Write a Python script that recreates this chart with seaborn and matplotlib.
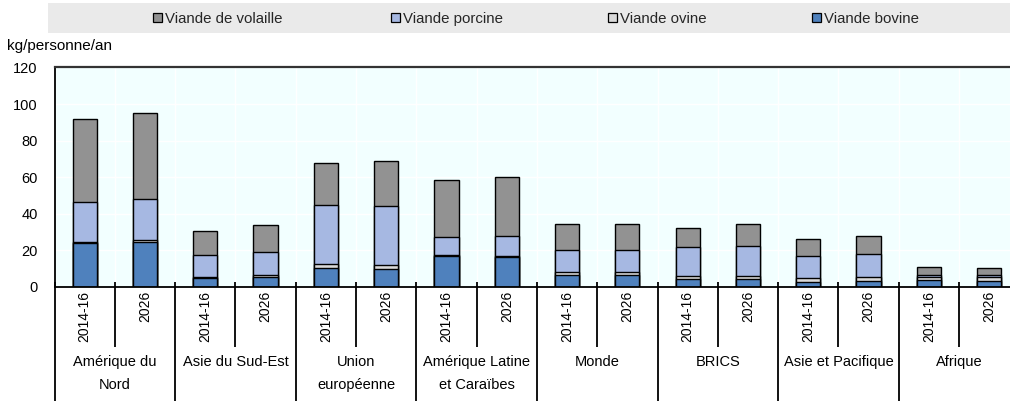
import numpy as np
import pandas as pd
import matplotlib
matplotlib.use("Agg")
import matplotlib.pyplot as plt
import seaborn as sns
from matplotlib.patches import Patch, Rectangle
from matplotlib.transforms import blended_transform_factory

# ---------------- data ----------------
regions = ["Amérique du\nNord", "Asie du Sud-Est", "Union\neuropéenne",
           "Amérique Latine\net Caraïbes", "Monde", "BRICS",
           "Asie et Pacifique", "Afrique"]
periods = ["2014-16", "2026"]
bovine   = [24.0, 24.8, 5.0, 5.7, 10.4, 10.1, 16.8, 16.6, 6.4, 6.3, 4.4, 4.6, 2.7, 3.3, 3.8, 3.5]
ovine    = [0.8, 0.7, 0.5, 0.6, 2.0, 2.2, 0.5, 0.5, 1.8, 1.9, 1.6, 1.6, 2.1, 2.0, 1.9, 2.0]
porcine  = [21.4, 22.5, 11.9, 12.7, 32.3, 31.8, 10.0, 10.8, 12.1, 11.8, 15.6, 16.3, 12.2, 12.5, 1.0, 1.1]
volaille = [45.8, 47.3, 13.2, 15.0, 23.1, 24.9, 31.2, 32.2, 14.0, 14.6, 10.5, 11.8, 9.0, 9.9, 4.0, 3.7]
series_names = ["Viande de volaille", "Viande porcine", "Viande ovine", "Viande bovine"]
colors = {"Viande bovine": "#4F81BD", "Viande ovine": "#D9D9D9",
          "Viande porcine": "#A6B8E2", "Viande de volaille": "#929292"}

# ---------------- table ----------------
keys = [f"{r}|{p}" for r in regions for p in periods]
df = pd.DataFrame({"key": keys, "bovine": bovine, "ovine": ovine,
                   "porcine": porcine, "volaille": volaille})
df["c1"] = df["bovine"]
df["c2"] = df["c1"] + df["ovine"]
df["c3"] = df["c2"] + df["porcine"]
df["c4"] = df["c3"] + df["volaille"]

sns.set_theme(style="white")
plt.rcParams["font.family"] = ["Liberation Sans", "DejaVu Sans"]

W, H = 1010, 401
fig = plt.figure(figsize=(W / 100, H / 100), dpi=100)
ax_left, ax_bottom_px, ax_top_px, slot = 54.5, 287, 67.5, 60.3
ax = fig.add_axes([ax_left / W, (H - ax_bottom_px) / H, 16 * slot / W,
                   (ax_bottom_px - ax_top_px) / H])
ax.set_facecolor("#F2FFFF")

layers = [("c4", "Viande de volaille"), ("c3", "Viande porcine"),
          ("c2", "Viande ovine"), ("c1", "Viande bovine")]
for col, name in layers:
    sns.barplot(data=df, x="key", y=col, order=keys, color=colors[name],
                saturation=1, width=0.4, edgecolor="black", linewidth=1.0,
                errorbar=None, ax=ax)

ax.set_xlim(-0.5, 15.5)
ax.set_ylim(0, 120)
ax.set_yticks(range(0, 121, 20))
ax.set_xlabel("")
ax.set_ylabel("")
ax.set_xticks(range(16))
ax.set_xticklabels(periods * len(regions), rotation=90, fontsize=10)
ax.tick_params(axis="x", length=0, pad=3, colors="black")
ax.tick_params(axis="y", length=0, pad=12, labelsize=10.5, colors="black")

# grid
ax.set_axisbelow(True)
ax.yaxis.grid(True, color="white", linewidth=1.0)
ax.xaxis.grid(False)
for k in range(17):
    ax.axvline(k - 0.5, color="white", linewidth=1.0, zorder=0.5)

for s in ["left", "bottom"]:
    ax.spines[s].set_color("black")
    ax.spines[s].set_linewidth(1.3)
ax.spines["top"].set_color("#333333")
ax.spines["top"].set_linewidth(1.6)
ax.spines["right"].set_visible(False)

# category separators and group labels
trans = blended_transform_factory(ax.transData, ax.transAxes)
hpx = ax_bottom_px - ax_top_px
for k in range(17):
    x = k - 0.5
    y0 = 5 / hpx
    y1 = -(347 - ax_bottom_px) / hpx if k % 2 else -(H - ax_bottom_px + 2) / hpx
    ax.plot([x, x], [y0, y1], transform=trans, color="black", linewidth=1.3,
            clip_on=False, solid_capstyle="butt")

line_y = [-(362 - ax_bottom_px) / hpx, -(385 - ax_bottom_px) / hpx]
for g, name in enumerate(regions):
    for j, line in enumerate(name.split("\n")):
        ax.text(2 * g + 0.5, line_y[j], line, transform=trans, ha="center",
                va="center", fontsize=10.5, color="black")

# unit label
fig.text(7 / W, 1 - 46 / H, "kg/personne/an", ha="left", va="center",
         fontsize=11, color="black")

# legend band
fig.add_artist(Rectangle((48 / W, 1 - 33.3 / H), (W - 48) / W, 30 / H,
                         transform=fig.transFigure, facecolor="#EAEAEA",
                         edgecolor="none", zorder=0))
legend_x = [152.7, 390.7, 608, 812]
for name, lx in zip(series_names, legend_x):
    h = Patch(facecolor=colors[name], edgecolor="black", linewidth=0.9)
    fig.legend(handles=[h], labels=[name], loc="center left",
               bbox_to_anchor=(lx / W, 1 - 19 / H), frameon=False,
               handlelength=0.6, handleheight=0.6, handletextpad=0.2,
               borderpad=0, borderaxespad=0, fontsize=10.8)

fig.savefig("out.png", dpi=100)
